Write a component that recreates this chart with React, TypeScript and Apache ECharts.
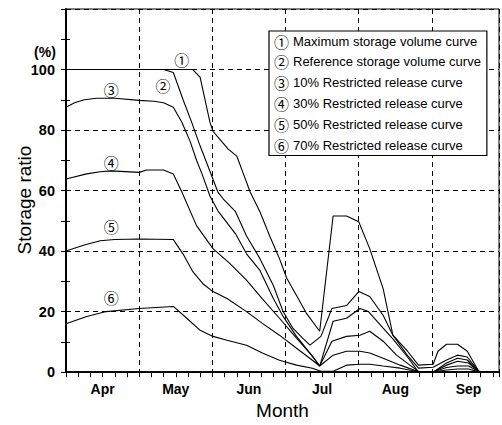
import React, { useEffect, useRef } from "react";
import * as echarts from "echarts";

// x = pentad index from 1 April (6 pentads per month), y = storage ratio (%)
const monthLabels = ["Apr", "May", "Jun", "Jul", "Aug", "Sep"];
const yTickLabels = [0, 20, 40, 60, 80, 100];

const seriesNames = [
  "① Maximum storage volume curve",
  "② Reference storage volume curve",
  "③ 10% Restricted release curve",
  "④ 30% Restricted release curve",
  "⑤ 50% Restricted release curve",
  "⑥ 70% Restricted release curve",
];

const curveMax = [
  [0, 100], [10.4, 100], [11.0, 97.4], [11.4, 90], [11.8, 82.6], [12.05, 79.6], [12.6, 77],
  [13.3, 73.7], [14.0, 71.4], [14.5, 66], [15.1, 59.5], [15.9, 53], [16.7, 45], [17.5, 37.5],
  [18.1, 31], [18.9, 25.3], [19.7, 19.5], [20.8, 13.5], [21.9, 51.6], [23.0, 51.6], [24.0, 49.7],
  [24.9, 40.8], [26.0, 27.6], [26.8, 12.2], [28.0, 6.9], [28.9, 2.3], [30.1, 2.6], [30.5, 6.9],
  [31.2, 9.2], [32.1, 9.2], [32.9, 6.9], [33.8, 0.5], [34.0, 0], [35.5, 0],
];
const curveRef = [
  [0, 100], [8.0, 100], [8.8, 99], [9.6, 90], [10.3, 82.6], [11.0, 74.7], [11.8, 66.4],
  [12.45, 59.5], [12.9, 57.2], [13.9, 53], [14.8, 45], [15.9, 37.5], [17.0, 28.6], [17.8, 20],
  [18.6, 14.5], [19.4, 11.2], [20.0, 8.9], [20.9, 11.8], [21.8, 21], [23.0, 22], [24.0, 26.6],
  [24.9, 25], [26.0, 18.8], [26.8, 12.2], [28.0, 5.5], [28.9, 1.3], [30.1, 1.6], [31.2, 4],
  [32.1, 5.6], [32.9, 5], [33.9, 0], [35.5, 0],
];
const curve10 = [
  [0, 87.5], [0.7, 89], [1.5, 90], [2.5, 90.5], [4, 90.5], [6, 89.8], [7.2, 89.5], [8.0, 89],
  [8.8, 87.5], [9.5, 82.6], [10.2, 76], [10.7, 70], [11.15, 65.5], [11.8, 58.2], [12.45, 53.3],
  [13.9, 45.7], [14.8, 39.1], [15.9, 33.6], [17.0, 24.3], [17.8, 18.4], [18.9, 11.8], [20.0, 6.3],
  [20.8, 2], [21.9, 16.8], [23.0, 17.8], [24.1, 21], [24.8, 20], [26.0, 14.5], [26.8, 11],
  [28.0, 5], [28.9, 0], [30.1, 0], [31.2, 3], [32.1, 4.6], [32.9, 4], [33.9, 0], [35.5, 0],
];
const curve30 = [
  [0, 63.8], [1.7, 65.5], [2.8, 66.2], [3.7, 66.5], [6, 66], [6.6, 66.8], [8.0, 66.8], [8.8, 65.5],
  [9.5, 59.5], [10.7, 48.4], [12.05, 40.8], [13.4, 36], [14.8, 30.4], [16.1, 24.2], [17.5, 17.8],
  [18.9, 11.2], [20.2, 5.3], [20.8, 2], [21.8, 10.2], [23.0, 11.8], [24.1, 12.2], [24.9, 13.5],
  [26.0, 10.2], [27.1, 5.6], [28.8, 0.5], [29.0, 0], [30.1, 0], [31.2, 2.3], [32.1, 3.6],
  [33.0, 3], [33.9, 0], [35.5, 0],
];
const curve50 = [
  [0, 40], [1.5, 42], [2.8, 43.4], [4, 43.8], [6, 44], [8.8, 43.8], [9.6, 39], [10.4, 33.2],
  [11.2, 29.3], [12.05, 26.6], [13.2, 24.3], [14.8, 20], [16.1, 16.1], [17.5, 12.2], [18.9, 7.9],
  [20.2, 3.9], [20.8, 2], [21.9, 5.6], [23.0, 6.9], [24.1, 6.9], [24.9, 6.3], [26.0, 4.6],
  [27.4, 2.3], [28.8, 0.3], [29.0, 0], [30.1, 0], [31.2, 1.5], [32.1, 2], [33.0, 2], [33.9, 0],
  [35.5, 0],
];
const curve70 = [
  [0, 16], [1.7, 18.4], [3.3, 20], [6, 21], [8.8, 21.7], [9.9, 17.8], [11.0, 13.8], [12.05, 11.8],
  [13.2, 10.5], [14.8, 8.9], [16.1, 6.3], [17.5, 3.9], [18.9, 2.3], [20.2, 1.3], [20.9, 0.3],
  [21.9, 0.3], [23.0, 2.3], [24.1, 2.6], [24.9, 2.6], [26.0, 2], [27.4, 1.3], [28.8, 0.2],
  [29.0, 0], [30.1, 0], [31.2, 0.7], [32.1, 1], [33.0, 1], [33.9, 0], [35.5, 0],
];
const curves = [curveMax, curveRef, curve10, curve30, curve50, curve70];

const curveMarks = ["①", "②", "③", "④", "⑤", "⑥"];
const markCoords = [[9.5, 103.3], [7.95, 94.7], [3.7, 93.4], [3.7, 69.4], [3.7, 48], [3.7, 24.7]];

const BOLDF = '"Liberation Sans", Arial, sans-serif';
const SANS = '"Liberation Sans", Arial, sans-serif';
const CIRC = '"Noto Sans CJK JP", "DejaVu Sans", sans-serif';

export default function App() {
  const ref = useRef<HTMLDivElement>(null);
  useEffect(() => {
    const chart = echarts.init(ref.current!, null, { renderer: "svg" });
    const dash = { color: "#000", type: [5, 4] as number[], width: 1 };
    const option: any = {
      animation: false,
      backgroundColor: "#fff",
      grid: { left: 66, right: 3, top: 9, bottom: 51, show: true, borderColor: "#000", borderWidth: 1 },
      xAxis: [
        {
          type: "value", min: 0, max: 35.5, interval: 6, position: "bottom",
          axisLine: { show: true, lineStyle: { color: "#000", width: 1.5 } },
          axisTick: { show: true, inside: false, length: 5, lineStyle: { color: "#000" } },
          minorTick: { show: true, splitNumber: 6, length: 5, lineStyle: { color: "#000" } },
          splitLine: { show: true, lineStyle: dash },
          axisLabel: {
            margin: 10, color: "#000", fontWeight: "bold", fontSize: 14, fontFamily: BOLDF,
            padding: [0, 0, 0, 73.2],
            formatter: (v: number) => (Number.isInteger(v / 6) && monthLabels[v / 6]) || "",
          },
          name: "Month", nameLocation: "middle", nameGap: 28,
          nameTextStyle: { color: "#000", fontSize: 19, fontFamily: SANS },
        },
        {
          type: "value", min: 0, max: 35.5, interval: 6, position: "top",
          axisLine: { show: true, lineStyle: { color: "#000", width: 1.5 } },
          axisTick: { show: true, inside: true, length: 5, lineStyle: { color: "#000" } },
          minorTick: { show: true, splitNumber: 6, length: 5, lineStyle: { color: "#000" } },
          splitLine: { show: false }, axisLabel: { show: false },
        },
      ],
      yAxis: [
        {
          type: "value", min: 0, max: 120, interval: 20, position: "left",
          axisLine: { show: true, lineStyle: { color: "#000", width: 2 } },
          axisTick: { show: true, inside: true, length: 4, lineStyle: { color: "#000" } },
          minorTick: { show: true, splitNumber: 2, length: 4, lineStyle: { color: "#000" } },
          splitLine: { show: true, lineStyle: dash },
          axisLabel: {
            margin: 11, color: "#000", fontWeight: "bold", fontSize: 14.5, fontFamily: BOLDF,
            formatter: (v: number) => (yTickLabels.includes(v) ? String(v) : ""),
          },
        },
        {
          type: "value", min: 0, max: 120, interval: 10, position: "right",
          axisLine: { show: true, lineStyle: { color: "#000", width: 1 } },
          axisTick: { show: true, inside: true, length: 5, lineStyle: { color: "#000" } },
          splitLine: { show: false }, axisLabel: { show: false },
        },
      ],
      legend: {
        orient: "vertical", left: 269, top: 31, icon: "none", itemWidth: 0, itemHeight: 20,
        itemGap: 3.3, padding: [0, 6, 3, 0], selectedMode: false,
        backgroundColor: "#fff", borderColor: "#000", borderWidth: 1.2,
        data: seriesNames,
        formatter: (name: string) => `{n|${name[0]}}{t|${name.slice(2)}}`,
        textStyle: {
          color: "#000",
          rich: {
            n: { fontFamily: CIRC, fontSize: 15, lineHeight: 17, padding: [0, 4, 0, 0], color: "#000" },
            t: { fontFamily: SANS, fontSize: 13, lineHeight: 17, color: "#000" },
          },
        },
      },
      graphic: [
        {
          type: "text", x: 45, y: 52,
          style: { text: "(%)", font: `bold 14px ${BOLDF}`, fill: "#000", align: "center", verticalAlign: "middle" },
        },
        {
          type: "text", x: 24, y: 200, rotation: Math.PI / 2,
          style: { text: "Storage ratio", font: `19px ${SANS}`, fill: "#000", align: "center", verticalAlign: "middle" },
        },
      ],
      series: curves.map((data, i) => ({
        name: seriesNames[i],
        type: "line",
        data,
        showSymbol: false,
        symbol: "none",
        lineStyle: { color: "#000", width: 1.1 },
        itemStyle: { color: "#000" },
        markPoint: {
          symbol: "circle", symbolSize: 1, itemStyle: { color: "rgba(0,0,0,0)" },
          label: {
            show: true, position: "inside", formatter: curveMarks[i], color: "#000",
            fontSize: 15, fontFamily: CIRC,
          },
          data: [{ coord: markCoords[i] }],
        },
      })),
    };
    chart.setOption(option);
    return () => chart.dispose();
  }, []);
  return <div ref={ref} style={{ position: "fixed", left: 0, top: 0, width: 502, height: 425 }} />;
}
